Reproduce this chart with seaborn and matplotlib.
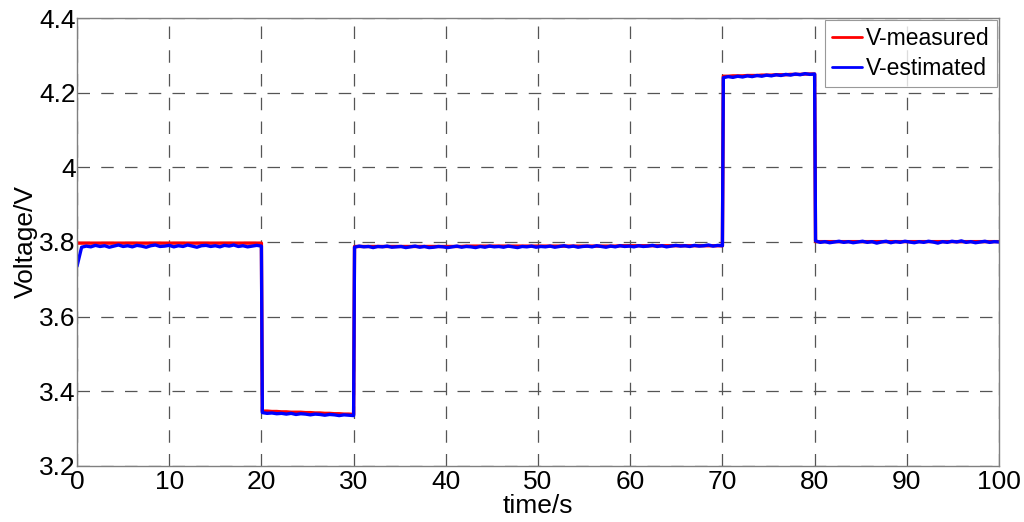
import numpy as np
import pandas as pd
import matplotlib
matplotlib.use("Agg")
import matplotlib.pyplot as plt
import seaborn as sns

# time axis per segment (0-20, 20-30, 30-70, 70-80, 80-100), 0.5 s sampling
time_seg1 = np.linspace(0, 20, 41)
time_seg2 = np.linspace(20.1, 30, 20)
time_seg3 = np.linspace(30.1, 70, 80)
time_seg4 = np.linspace(70.1, 80, 20)
time_seg5 = np.linspace(80.1, 100, 40)
time_s = np.concatenate([time_seg1, time_seg2, time_seg3, time_seg4, time_seg5])

# V-measured, per segment
measured_seg1 = [3.797, 3.797, 3.797, 3.797, 3.797, 3.797, 3.797, 3.797, 3.797, 3.797,
                 3.797, 3.797, 3.797, 3.797, 3.797, 3.797, 3.797, 3.797, 3.797, 3.797,
                 3.797, 3.797, 3.797, 3.797, 3.797, 3.797, 3.797, 3.797, 3.797, 3.797,
                 3.797, 3.797, 3.797, 3.797, 3.797, 3.797, 3.797, 3.797, 3.797, 3.797,
                 3.797]
measured_seg2 = [3.347, 3.347, 3.346, 3.346, 3.345, 3.345, 3.344, 3.344, 3.344, 3.343,
                 3.343, 3.342, 3.342, 3.341, 3.341, 3.340, 3.340, 3.339, 3.339, 3.338]
measured_seg3 = [3.788, 3.788, 3.788, 3.788, 3.788, 3.788, 3.788, 3.788, 3.788, 3.788,
                 3.788, 3.788, 3.788, 3.788, 3.788, 3.788, 3.788, 3.788, 3.788, 3.788,
                 3.788, 3.788, 3.788, 3.788, 3.789, 3.789, 3.789, 3.789, 3.789, 3.789,
                 3.789, 3.789, 3.789, 3.789, 3.789, 3.789, 3.789, 3.789, 3.789, 3.789,
                 3.789, 3.789, 3.789, 3.789, 3.789, 3.789, 3.789, 3.789, 3.789, 3.789,
                 3.789, 3.789, 3.789, 3.789, 3.789, 3.789, 3.789, 3.790, 3.790, 3.790,
                 3.790, 3.790, 3.790, 3.790, 3.790, 3.790, 3.790, 3.790, 3.790, 3.790,
                 3.790, 3.790, 3.790, 3.790, 3.790, 3.790, 3.790, 3.790, 3.790, 3.790]
measured_seg4 = [4.244, 4.244, 4.245, 4.245, 4.245, 4.246, 4.246, 4.246, 4.247, 4.247,
                 4.247, 4.248, 4.248, 4.248, 4.249, 4.249, 4.249, 4.250, 4.250, 4.250]
measured_seg5 = [3.801, 3.801, 3.801, 3.801, 3.801, 3.801, 3.801, 3.801, 3.801, 3.801,
                 3.801, 3.801, 3.801, 3.801, 3.801, 3.801, 3.801, 3.801, 3.801, 3.801,
                 3.801, 3.801, 3.801, 3.801, 3.801, 3.801, 3.801, 3.801, 3.801, 3.801,
                 3.801, 3.801, 3.801, 3.801, 3.801, 3.801, 3.801, 3.801, 3.801, 3.801]

# V-estimated, same segments
estimated_seg1 = [3.735, 3.786, 3.789, 3.787, 3.791, 3.788, 3.790, 3.786, 3.789, 3.792,
                  3.788, 3.790, 3.787, 3.791, 3.789, 3.786, 3.790, 3.792, 3.788, 3.789,
                  3.791, 3.787, 3.790, 3.788, 3.792, 3.789, 3.786, 3.790, 3.791, 3.788,
                  3.790, 3.787, 3.791, 3.789, 3.792, 3.788, 3.790, 3.787, 3.789, 3.791,
                  3.789]
estimated_seg2 = [3.343, 3.341, 3.342, 3.340, 3.341, 3.339, 3.341, 3.338, 3.340, 3.339,
                  3.337, 3.339, 3.338, 3.336, 3.338, 3.337, 3.335, 3.337, 3.336, 3.335]
estimated_seg3 = [3.786, 3.789, 3.787, 3.788, 3.785, 3.788, 3.787, 3.789, 3.786, 3.787,
                  3.788, 3.785, 3.787, 3.789, 3.786, 3.788, 3.785, 3.786, 3.788, 3.787,
                  3.785, 3.787, 3.789, 3.786, 3.788, 3.787, 3.785, 3.788, 3.786, 3.789,
                  3.787, 3.788, 3.786, 3.789, 3.787, 3.785, 3.788, 3.787, 3.789, 3.786,
                  3.788, 3.787, 3.789, 3.786, 3.788, 3.790, 3.787, 3.789, 3.786, 3.788,
                  3.789, 3.787, 3.790, 3.788, 3.786, 3.789, 3.787, 3.790, 3.788, 3.789,
                  3.787, 3.790, 3.788, 3.789, 3.791, 3.788, 3.790, 3.787, 3.789, 3.791,
                  3.789, 3.790, 3.788, 3.791, 3.789, 3.790, 3.792, 3.789, 3.791, 3.790]
estimated_seg4 = [4.240, 4.243, 4.241, 4.244, 4.242, 4.245, 4.243, 4.246, 4.244, 4.247,
                  4.245, 4.248, 4.246, 4.249, 4.247, 4.250, 4.248, 4.251, 4.249, 4.250]
estimated_seg5 = [3.803, 3.799, 3.801, 3.798, 3.800, 3.802, 3.799, 3.801, 3.798, 3.800,
                  3.802, 3.799, 3.801, 3.797, 3.800, 3.802, 3.798, 3.801, 3.799, 3.802,
                  3.800, 3.798, 3.801, 3.799, 3.802, 3.800, 3.797, 3.801, 3.799, 3.802,
                  3.800, 3.803, 3.799, 3.801, 3.798, 3.800, 3.802, 3.799, 3.801, 3.800]

v_measured = measured_seg1 + measured_seg2 + measured_seg3 + measured_seg4 + measured_seg5
v_estimated = estimated_seg1 + estimated_seg2 + estimated_seg3 + estimated_seg4 + estimated_seg5

df = pd.DataFrame({
    "time/s": np.concatenate([time_s, time_s]),
    "Voltage/V": v_measured + v_estimated,
    "series": ["V-measured"] * len(time_s) + ["V-estimated"] * len(time_s),
})

sns.set_style("white")
plt.rcParams["font.family"] = ["Liberation Sans", "DejaVu Sans"]
plt.rcParams["text.color"] = "black"
plt.rcParams["axes.labelcolor"] = "black"
plt.rcParams["xtick.labelcolor"] = "black"
plt.rcParams["ytick.labelcolor"] = "black"

fig = plt.figure(figsize=(10.24, 5.22), dpi=100)
ax = fig.add_axes([0.0752, 0.1073, 0.9004, 0.8582])

sns.lineplot(data=df, x="time/s", y="Voltage/V", hue="series",
             palette={"V-measured": "#ff0000", "V-estimated": "#0000ff"},
             linewidth=2.4, ax=ax, estimator=None, sort=False)

ax.set_xlim(0, 100)
ax.set_ylim(3.2, 4.4)
ax.set_xticks(np.arange(0, 101, 10))
ax.set_yticks([3.2, 3.4, 3.6, 3.8, 4.0, 4.2, 4.4])
ax.set_yticklabels(["3.2", "3.4", "3.6", "3.8", "4", "4.2", "4.4"])
ax.tick_params(direction="in", length=4, labelsize=19, color="#808080",
               labelcolor="black")
ax.tick_params(axis="x", pad=3)
ax.tick_params(axis="y", pad=1)
ax.grid(True, color="#555555", linestyle=(0, (10, 9)), linewidth=0.9)
for sp in ax.spines.values():
    sp.set_color("#808080")
    sp.set_linewidth(1.0)
ax.set_xlabel("time/s", fontsize=19, labelpad=0, color="black")
ax.set_ylabel("Voltage/V", fontsize=19, labelpad=1, color="black")

leg = ax.legend(loc="upper right", fontsize=16.5, frameon=True, fancybox=False,
                handlelength=1.3, handletextpad=0.2, borderpad=0.3,
                labelspacing=0.3, borderaxespad=0.1)
leg.get_frame().set_edgecolor("#808080")
leg.get_frame().set_linewidth(0.8)
for text in leg.get_texts():
    text.set_color("black")
for line in leg.get_lines():
    line.set_linewidth(2.0)

plt.savefig("out.png", dpi=100)
